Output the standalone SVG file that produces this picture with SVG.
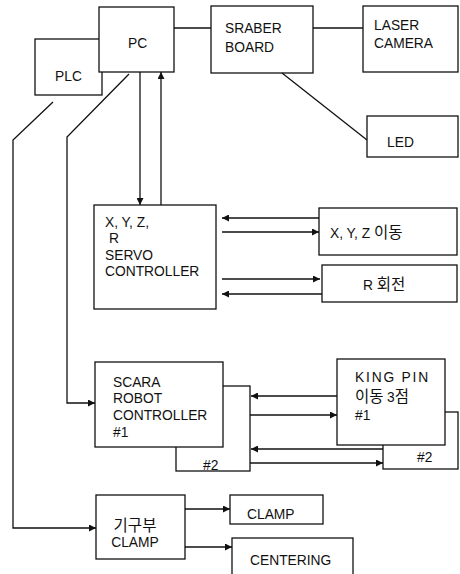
<svg xmlns="http://www.w3.org/2000/svg" width="460" height="574" viewBox="0 0 460 574">
<style>
.box{fill:#fff;stroke:#111;stroke-width:1.3}
.ln{fill:none;stroke:#111;stroke-width:1.3}
.t{font-family:"Liberation Sans",Arial,"Noto Sans CJK KR",sans-serif;font-size:13.8px;fill:#111}
.k{font-family:"Noto Sans CJK KR","Liberation Sans",sans-serif;font-size:15.5px;fill:#111}
</style>
<defs>
<marker id="ah" viewBox="0 0 10 10" refX="10" refY="5" markerWidth="8" markerHeight="7" markerUnits="userSpaceOnUse" orient="auto">
<path d="M0,0 L10,5 L0,10 z" fill="#111"/>
</marker>
</defs>
<rect width="460" height="574" fill="#fff"/>
<g id="plc"><rect class="box" x="35" y="39" width="67" height="56"/><text class="t" x="55" y="81">PLC</text></g>
<g id="pc"><rect class="box" x="99" y="7" width="75" height="65"/><text class="t" x="128" y="48">PC</text></g>
<g id="sraber"><rect class="box" x="211" y="6" width="102" height="67"/><text class="t" x="225" y="33">SRABER</text><text class="t" x="225" y="52">BOARD</text></g>
<g id="laser"><rect class="box" x="363" y="6" width="95" height="66"/><text class="t" x="374" y="30">LASER</text><text class="t" x="374" y="48">CAMERA</text></g>
<g id="led"><rect class="box" x="367" y="116" width="91" height="41"/><text class="t" x="387" y="147">LED</text></g>
<g id="servo"><rect class="box" x="94" y="205" width="122" height="104"/>
<text class="t" x="105" y="227">X, Y, Z,</text><text class="t" x="109" y="243">R</text><text class="t" x="105" y="260">SERVO</text><text class="t" x="105" y="276">CONTROLLER</text></g>
<g id="xyz"><rect class="box" x="319" y="208" width="138" height="47"/><text class="t" x="330" y="238">X, Y, Z <tspan class="k">이동</tspan></text></g>
<g id="rrot"><rect class="box" x="322" y="265" width="135" height="37"/><text class="t" x="363" y="290">R <tspan class="k" font-size="14px">회전</tspan></text></g>
<g id="scara2"><rect class="box" x="176" y="386" width="74" height="85"/><text class="t" x="203" y="470">#2</text></g>
<g id="scara"><rect class="box" x="95" y="362" width="128" height="85"/>
<text class="t" x="113" y="387">SCARA</text><text class="t" x="113" y="403">ROBOT</text><text class="t" x="113" y="420">CONTROLLER</text><text class="t" x="113" y="437">#1</text></g>
<g id="kingpin2"><rect class="box" x="383" y="412" width="75" height="57"/><text class="t" x="417" y="462">#2</text></g>
<g id="kingpin"><rect class="box" x="337" y="359" width="108" height="86"/>
<text class="t" x="355" y="382" font-size="14.5px" letter-spacing="1.8">KING PIN</text><text class="k" x="355" y="402">이동 <tspan class="t" font-size="15px">3</tspan>점</text><text class="t" x="355" y="420">#1</text></g>
<g id="mech"><rect class="box" x="96" y="495" width="89" height="64"/><text class="k" x="135" y="531" text-anchor="middle">기구부</text><text class="t" x="135" y="547" text-anchor="middle">CLAMP</text></g>
<g id="clamp"><rect class="box" x="230" y="495" width="93" height="29"/><text class="t" x="247" y="519">CLAMP</text></g>
<g id="centering"><rect class="box" x="232" y="538" width="121" height="40"/><text class="t" x="250" y="565">CENTERING</text></g>
<g id="connectors">
<line class="ln" x1="174" y1="28" x2="211" y2="28"/>
<line class="ln" x1="313" y1="28" x2="363" y2="28"/>
<line class="ln" x1="282" y1="73" x2="367" y2="140"/>
<line class="ln" x1="140" y1="72" x2="140" y2="205" marker-end="url(#ah)"/>
<line class="ln" x1="161" y1="205" x2="161" y2="72" marker-end="url(#ah)"/>
<polyline class="ln" points="53,102 13,140 13,528 96,528" marker-end="url(#ah)"/>
<polyline class="ln" points="129,74 67,137 67,403 95,403" marker-end="url(#ah)"/>
<line class="ln" x1="319" y1="218" x2="222" y2="218" marker-end="url(#ah)"/>
<line class="ln" x1="222" y1="232" x2="319" y2="232" marker-end="url(#ah)"/>
<line class="ln" x1="222" y1="279" x2="320" y2="279" marker-end="url(#ah)"/>
<line class="ln" x1="322" y1="294" x2="222" y2="294" marker-end="url(#ah)"/>
<line class="ln" x1="337" y1="396" x2="251" y2="396" marker-end="url(#ah)"/>
<line class="ln" x1="250" y1="415" x2="337" y2="415" marker-end="url(#ah)"/>
<line class="ln" x1="383" y1="449" x2="251" y2="449" marker-end="url(#ah)"/>
<line class="ln" x1="250" y1="463" x2="383" y2="463" marker-end="url(#ah)"/>
<line class="ln" x1="185" y1="509" x2="230" y2="509" marker-end="url(#ah)"/>
<line class="ln" x1="185" y1="547" x2="232" y2="547" marker-end="url(#ah)"/>
</g>
</svg>
